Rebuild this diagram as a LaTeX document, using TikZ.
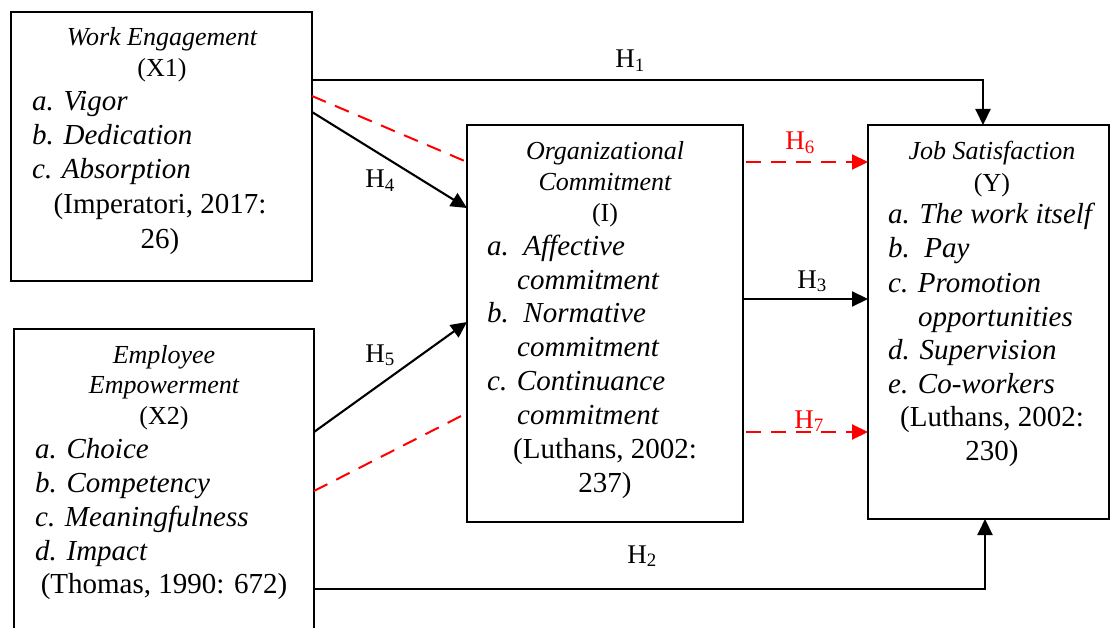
\documentclass[tikz,border=0pt]{standalone}
\usepackage{fontspec}
\setmainfont{Liberation Serif}
\usetikzlibrary{arrows.meta}
\tikzset{
  boxnode/.style={draw, line width=2pt, inner sep=0pt, outer sep=0pt, anchor=north west},
  ttl/.style={font=\fontsize{26}{31}\selectfont\itshape, anchor=base, inner sep=0pt},
  tid/.style={font=\fontsize{26}{31}\selectfont, anchor=base, inner sep=0pt},
  itm/.style={font=\fontsize{29}{34}\selectfont\itshape, anchor=base west, inner sep=0pt},
  cit/.style={font=\fontsize{29}{34}\selectfont, anchor=base, inner sep=0pt},
  hlab/.style={font=\fontsize{27}{31}\selectfont, anchor=base, inner sep=0pt},
  conn/.style={line width=2.1pt, -{Triangle[length=16pt,width=15pt]}},
  rline/.style={red, line width=2pt, dash pattern=on 15pt off 10pt},
  rconn/.style={rline, -{Triangle[length=16pt,width=15pt]}},
}
\begin{document}
\begin{tikzpicture}[x=1pt,y=-1pt]
\useasboundingbox (0,0) rectangle (1110,628);
% boxes
\node[boxnode, minimum width=301pt, minimum height=269pt] (x1) at (11,12) {};
\node[boxnode, minimum width=300pt, minimum height=320pt] (x2) at (14,329) {};
\node[boxnode, minimum width=276pt, minimum height=397pt] (i) at (467,125) {};
\node[boxnode, minimum width=241pt, minimum height=394pt] (y) at (868,125) {};
% X1 text
\node[ttl] (x1t) at (162,46) {Work Engagement};
\node[tid] (x1id) at (162,77) {(X1)};
\node[itm] (x1a) at (32,111) {a. Vigor};
\node[itm] (x1b) at (32,145) {b. Dedication};
\node[itm] (x1c) at (32,179) {c. Absorption};
\node[cit] (x1s) at (160,214) {(Imperatori, 2017:};
\node[cit] (x1s2) at (160,248) {26)};
% X2 text
\node[ttl] (x2t) at (164,363) {Employee};
\node[ttl] (x2t2) at (164,393) {Empowerment};
\node[tid] (x2id) at (164,424) {(X2)};
\node[itm] (x2a) at (35,458) {a. Choice};
\node[itm] (x2b) at (35,492) {b. Competency};
\node[itm] (x2c) at (35,526) {c. Meaningfulness};
\node[itm] (x2d) at (35,560) {d. Impact};
\node[cit] (x2s) at (164,593) {(Thomas, 1990: 672)};
% I text
\node[ttl] (it) at (605,160) {Organizational};
\node[ttl] (it2) at (605,191) {Commitment};
\node[tid] (iid) at (605,222) {(I)};
\node[itm] (ia) at (487,255) {a.\ \ Affective};
\node[itm] (ia2) at (517,289) {commitment};
\node[itm] (ib) at (487,322) {b.\ \ Normative};
\node[itm] (ib2) at (517,356) {commitment};
\node[itm] (ic) at (487,390) {c. Continuance};
\node[itm] (ic2) at (517,424) {commitment};
\node[cit] (is) at (605,458) {(Luthans, 2002:};
\node[cit] (is2) at (605,492) {237)};
% Y text
\node[ttl] (yt) at (992,160) {Job Satisfaction};
\node[tid] (yid) at (992,192) {(Y)};
\node[itm] (ya) at (888,224) {a. The work itself};
\node[itm] (yb) at (888,258) {b.\ \ Pay};
\node[itm] (yc) at (888,292) {c. Promotion};
\node[itm] (yc2) at (918,326) {opportunities};
\node[itm] (yd) at (888,359) {d. Supervision};
\node[itm] (ye) at (888,393) {e. Co-workers};
\node[cit] (ys) at (992,426) {(Luthans, 2002:};
\node[cit] (ys2) at (992,460) {230)};
% connectors
\draw[conn] ([yshift=-68pt]x1.north east) -| ([xshift=-5.5pt]y.north);
\draw[conn] ([yshift=-260pt]x2.north east) -| ([xshift=-3.5pt]y.south);
\draw[rline] ([yshift=-84pt]x1.north east) -- ([yshift=-37pt]i.north west);
\draw[conn] ([yshift=-100pt]x1.north east) -- ([yshift=-83pt]i.north west);
\draw[conn] ([yshift=-103pt]x2.north east) -- ([yshift=-197pt]i.north west);
\draw[rline] ([yshift=-162pt]x2.north east) -- ([yshift=-288pt]i.north west);
\draw[rconn] ([xshift=3pt,yshift=-37pt]i.north east) -- ([yshift=-37pt]y.north west);
\draw[conn] ([yshift=-174pt]i.north east) -- ([yshift=-174pt]y.north west);
\draw[rconn] ([xshift=3pt,yshift=-307pt]i.north east) -- ([yshift=-307pt]y.north west);
% labels
\node[hlab] (h1) at (630,68) {H\textsubscript{1}};
\node[hlab] (h2) at (642,563) {H\textsubscript{2}};
\node[hlab] (h3) at (812,288) {H\textsubscript{3}};
\node[hlab] (h4) at (380,188) {H\textsubscript{4}};
\node[hlab] (h5) at (380,362) {H\textsubscript{5}};
\node[hlab, red] (h6) at (800,150) {H\textsubscript{6}};
\node[hlab, red] (h7) at (809,428) {H\textsubscript{7}};
\end{tikzpicture}
\end{document}
